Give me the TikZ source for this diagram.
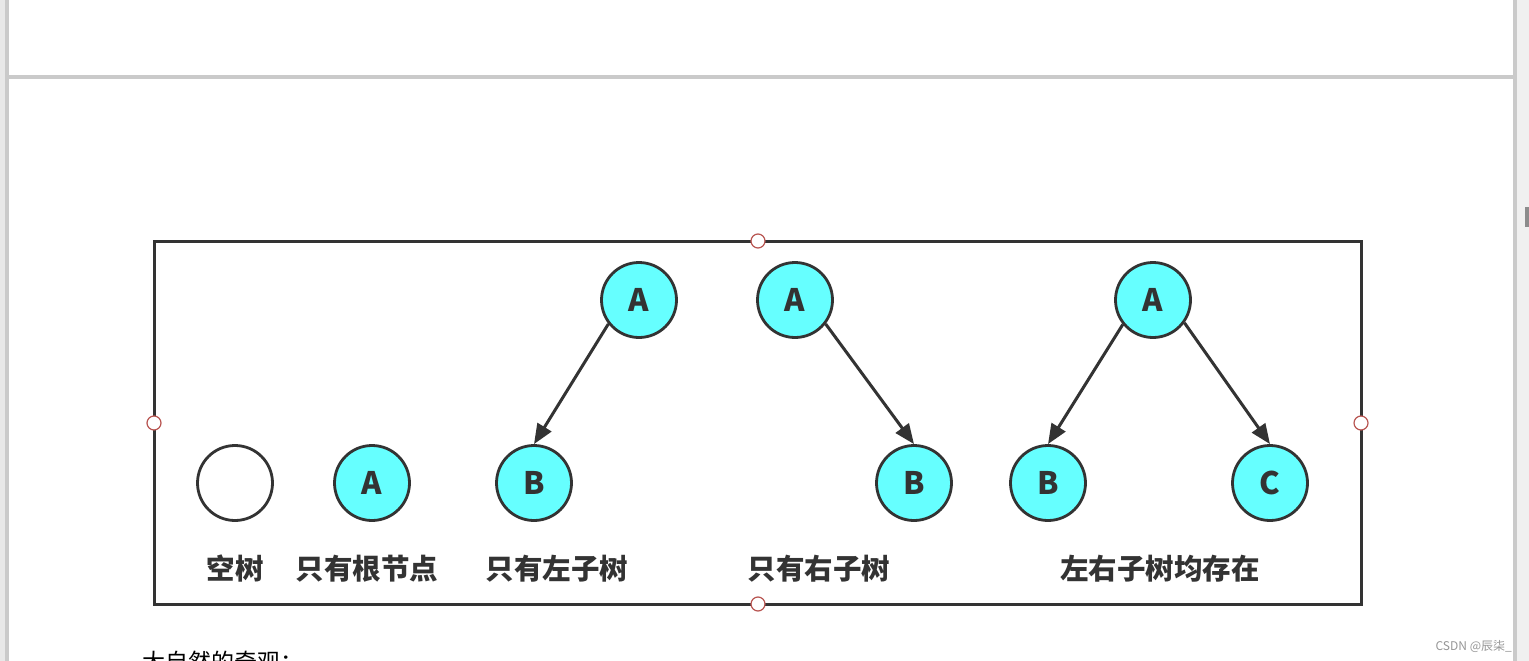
\documentclass[tikz,border=0pt]{standalone}
\usepackage{fontspec}
\usetikzlibrary{arrows.meta}
\newfontfamily\cjk{Noto Sans CJK SC}
\definecolor{strk}{HTML}{333333}
\definecolor{cyanfill}{HTML}{66FFFF}
\definecolor{chrome}{HTML}{CACACA}
\definecolor{chromelt}{HTML}{E8E8E8}
\definecolor{chromebg}{HTML}{F0F0F0}
\definecolor{thumb}{HTML}{8C8C8C}
\definecolor{wmark}{HTML}{969696}
\definecolor{handle}{HTML}{B85450}
\tikzset{
  treenode/.style={circle, draw=strk, line width=2.8pt, fill=cyanfill, minimum size=75pt, inner sep=0pt, font=\cjk\bfseries\fontsize{31}{31}\selectfont, text=strk},
  emptynode/.style={treenode, fill=white},
  caption/.style={font=\cjk\bfseries\fontsize{28.5}{28.5}\selectfont, text=strk, inner sep=0pt},
  edge/.style={-{Triangle[length=20pt,width=16pt]}, line width=3pt, draw=strk},
  handlept/.style={circle, draw=handle, line width=1.2pt, fill=white, minimum size=14pt, inner sep=0pt}
}
\begin{document}
\begin{tikzpicture}[x=1pt,y=-1pt]
\useasboundingbox (0,0) rectangle (1529,661);
\clip (0,0) rectangle (1529,661);
% page chrome
\fill[white] (0,0) rectangle (1529,661);
\fill[chromelt] (0,0) rectangle (5,661);
\fill[chrome] (5,0) rectangle (9,661);
\fill[chrome] (9,75.5) rectangle (1513,79.5);
\fill[chrome] (1513,0) rectangle (1517,661);
\fill[chromebg] (1517,0) rectangle (1529,661);
\fill[thumb] (1525,207) rectangle (1529,227);
% frame
\draw[strk, line width=3pt] (154,241) rectangle (1361,604);
\node[handlept] (h1) at (758,241) {};
\node[handlept] (h2) at (154,423) {};
\node[handlept] (h3) at (1361,423) {};
\node[handlept] (h4) at (758,604) {};
% trees
\node[emptynode] (e) at (235,483) {};
\node[treenode] (r) at (372,483) {A};
\node[treenode] (la) at (639,300) {A};
\node[treenode] (lb) at (534,483) {B};
\node[treenode] (ra) at (795,300) {A};
\node[treenode] (rb) at (914,483) {B};
\node[treenode] (ba) at (1153,300) {A};
\node[treenode] (bb) at (1048,483) {B};
\node[treenode] (bc) at (1270,483) {C};
\draw[edge] (la.218) -- (lb.north);
\draw[edge] (ra.322) -- (rb.north);
\draw[edge] (ba.219) -- (bb.north);
\draw[edge] (ba.324) -- (bc.north);
% captions
\node[caption] (c1) at (235,569) {空树};
\node[caption] (c2) at (367,569) {只有根节点};
\node[caption] (c3) at (557,569) {只有左子树};
\node[caption] (c4) at (819,569) {只有右子树};
\node[caption] (c5) at (1160,569) {左右子树均存在};
% below text
\node[anchor=base west, inner sep=0pt, font=\cjk\fontsize{23}{23}\selectfont, text=black] (t) at (142,670) {大自然的奇观：};
\node[anchor=base east, inner sep=0pt, font=\cjk\fontsize{12}{12}\selectfont, text=wmark] (w) at (1512,650) {CSDN @辰柒\_};
\end{tikzpicture}
\end{document}
